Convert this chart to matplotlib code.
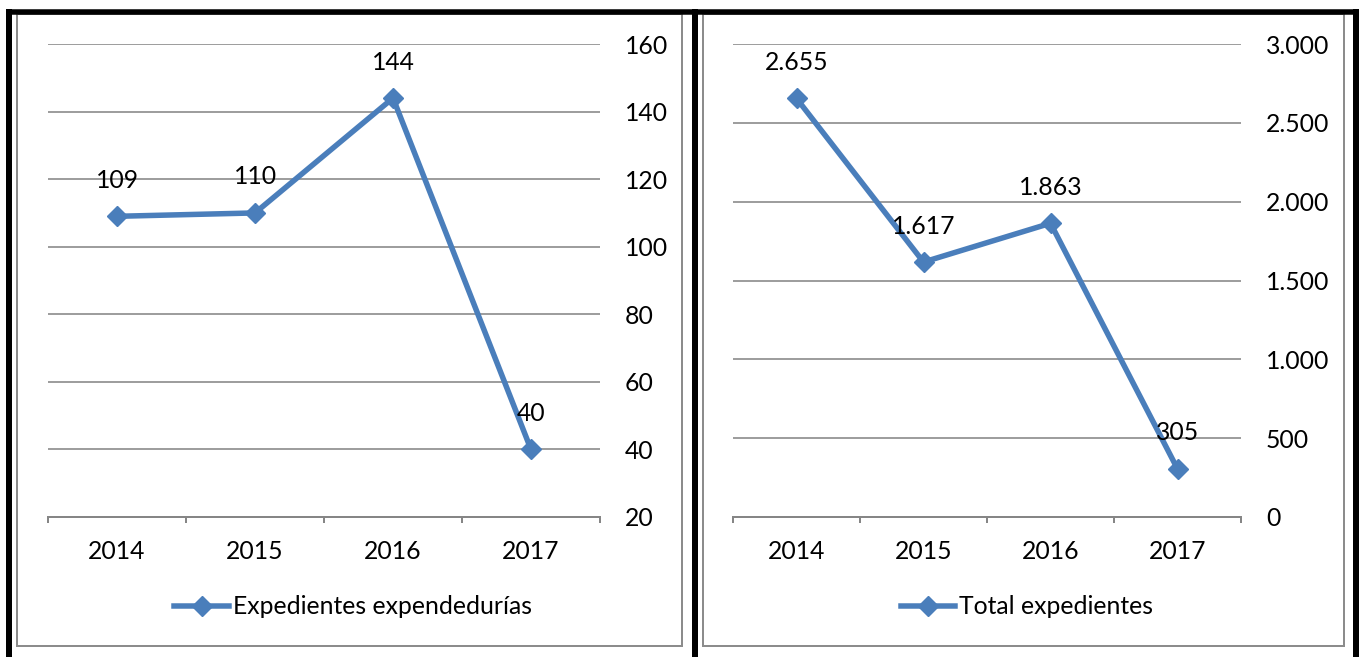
import matplotlib
matplotlib.use('Agg')
from matplotlib import pyplot as plt
from matplotlib.patches import Rectangle
from matplotlib.ticker import FuncFormatter, FixedLocator

years = ['2014', '2015', '2016', '2017']
expendedurias = [109, 110, 144, 40]
total_expedientes = [2655, 1617, 1863, 305]

BLUE = '#4A7EBB'
GRID = '#868686'
W, H = 1363, 657
PX = 72 / 100  # points per pixel at dpi 100

plt.rcParams['font.family'] = ['Lato', 'DejaVu Sans']
plt.rcParams['font.size'] = 17.8

fig = plt.figure(figsize=(W / 100, H / 100), dpi=100)

# background layer in pixel coords for the table borders and chart frames
bg = fig.add_axes([0, 0, 1, 1], zorder=-1)
bg.set_xlim(0, W)
bg.set_ylim(H, 0)
bg.axis('off')
for x0, x1 in [(17, 682), (703, 1344)]:
    bg.add_patch(Rectangle((x0, 14), x1 - x0, 632, fill=False, ec='#8c8c8c', lw=2 * PX))
bg.plot([6, 1359], [11.5, 11.5], color='black', lw=5.5 * PX, solid_capstyle='butt')
for x in [9, 695, 1356]:
    bg.plot([x, x], [9, H], color='black', lw=6 * PX, solid_capstyle='butt')


def fmt_thousands(v, pos):
    return '{:,.0f}'.format(v).replace(',', '.')


def make_chart(left, right, values, ymin, ymax, ystep, label, legend_x):
    ax = fig.add_axes([left / W, (H - 517) / H, (right - left) / W, 473 / H])
    x = range(len(values))
    ax.plot(x, values, color=BLUE, lw=5.5 * PX, marker='D', ms=10.5, label=label,
            solid_joinstyle='round', clip_on=False, zorder=3)
    for xi, v in zip(x, values):
        ax.annotate(fmt_thousands(v, None), (xi, v), xytext=(0, 36 * PX),
                    textcoords='offset points', ha='center', va='center', zorder=4)
    ax.set_xlim(-0.5, len(values) - 0.5)
    ax.set_ylim(ymin, ymax)
    ax.set_xticks(list(x))
    ax.set_xticklabels(years)
    ax.xaxis.set_minor_locator(FixedLocator([i - 0.5 for i in range(len(values) + 1)]))
    ax.tick_params(axis='x', which='major', length=0, pad=23 * PX)
    ax.tick_params(axis='x', which='minor', length=6 * PX, width=2 * PX, color=GRID)
    ax.set_yticks(range(ymin, ymax + 1, ystep))
    ax.yaxis.set_major_formatter(FuncFormatter(fmt_thousands))
    ax.yaxis.tick_right()
    ax.tick_params(axis='y', length=0, pad=25 * PX)
    ax.grid(axis='y', color=GRID, lw=1.6 * PX)
    ax.set_axisbelow(True)
    for s in ['top', 'left', 'right']:
        ax.spines[s].set_visible(False)
    ax.spines['bottom'].set_color(GRID)
    ax.spines['bottom'].set_linewidth(2 * PX)
    ax.legend(loc='center', bbox_to_anchor=(legend_x / W, (H - 607) / H),
              bbox_transform=fig.transFigure, frameon=False,
              handlelength=2.2, handletextpad=0.15, borderpad=0)
    return ax


make_chart(48, 600, expendedurias, 20, 160, 20, 'Expedientes expendedurías', 353)
make_chart(733, 1241, total_expedientes, 0, 3000, 500, 'Total expedientes', 1027)

fig.savefig('out.png', dpi=100)
